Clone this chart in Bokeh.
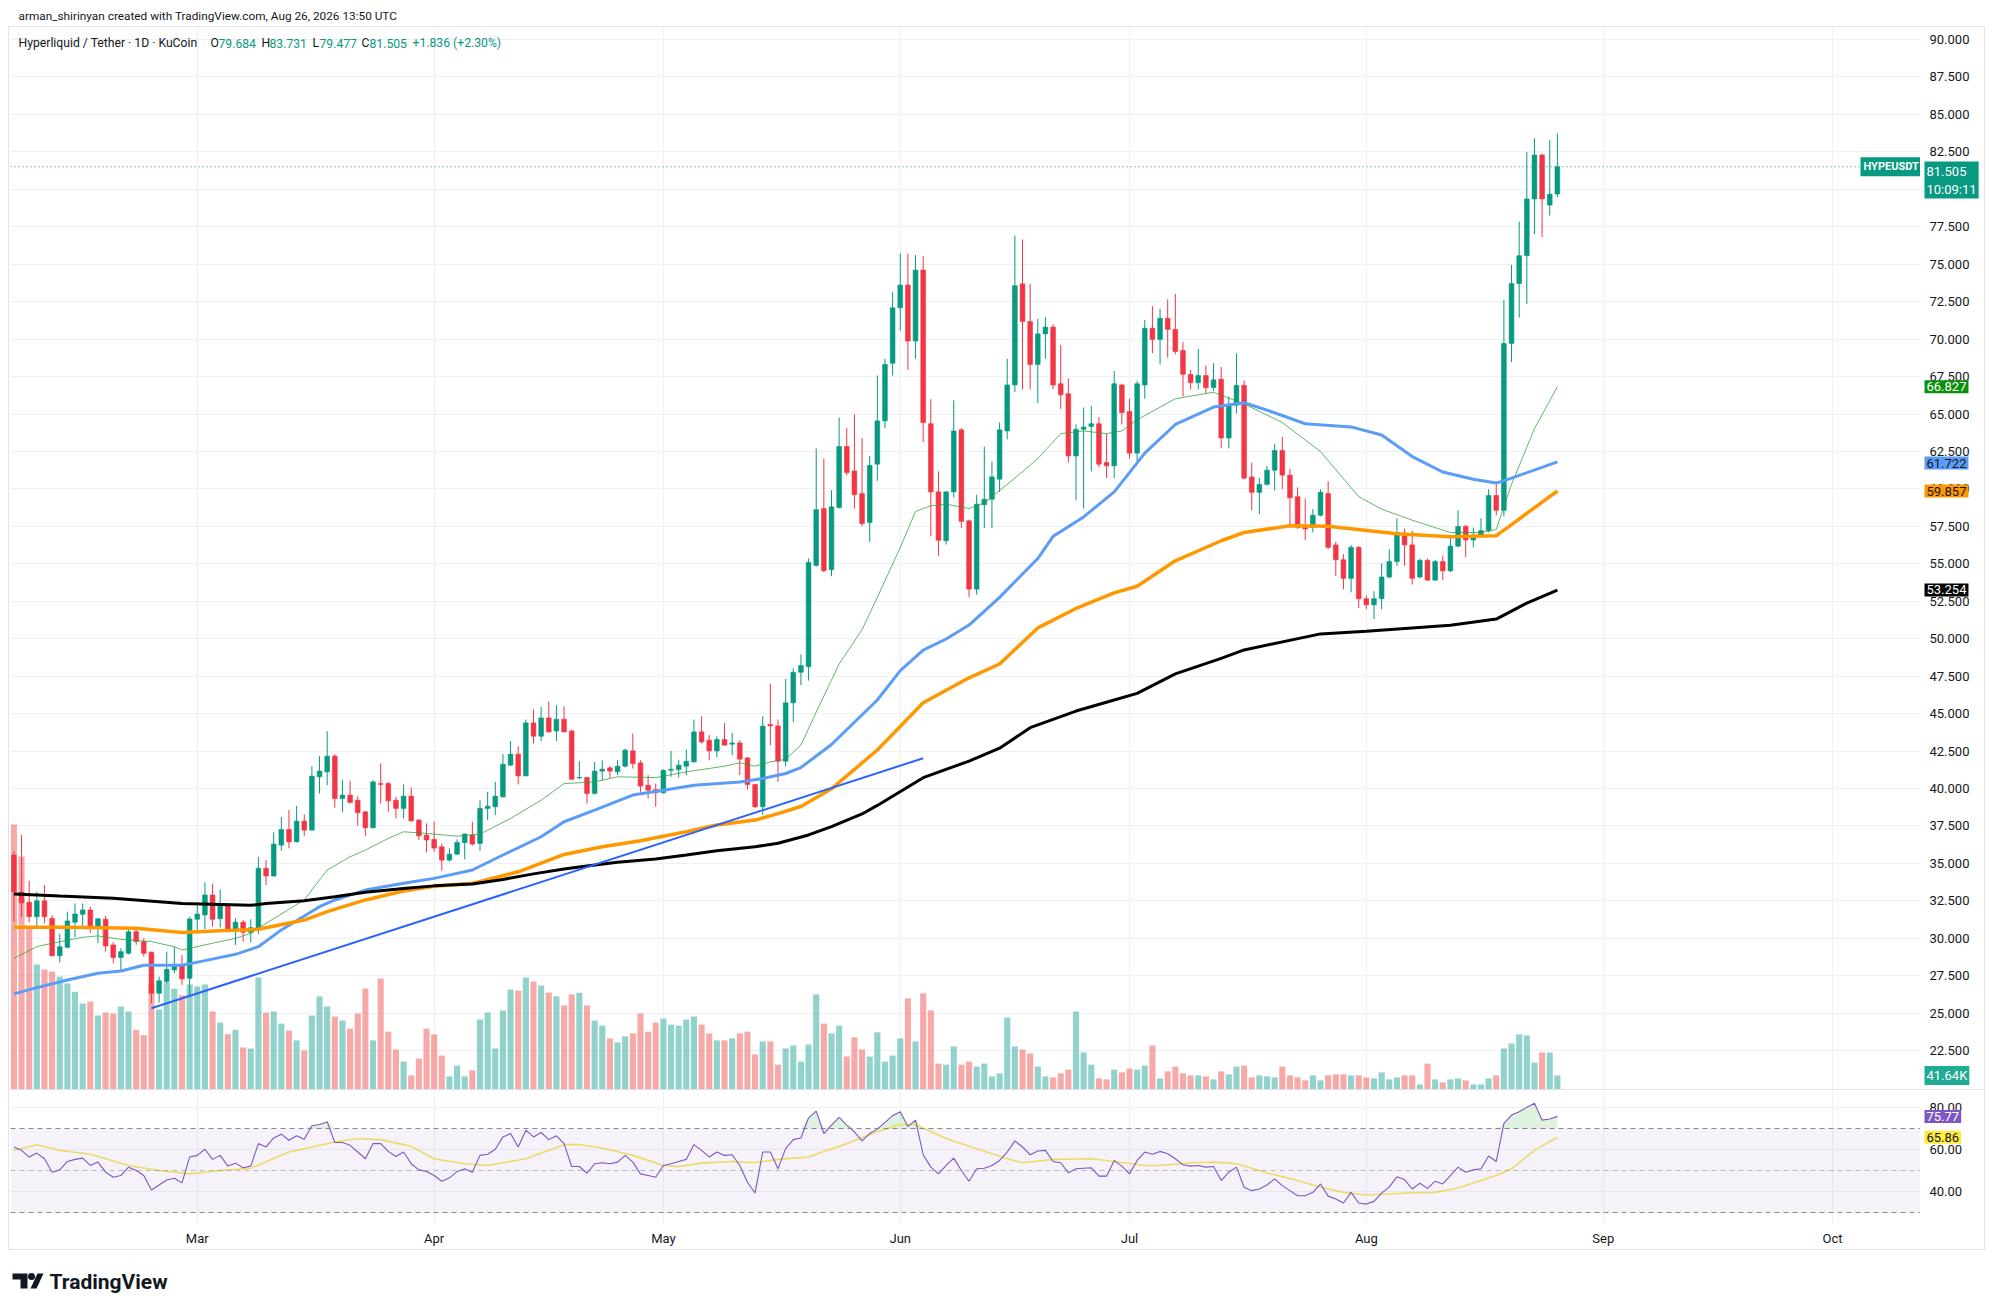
import numpy as np
import pandas as pd
from bokeh.plotting import figure
from bokeh.models import (Range1d, FixedTicker, DatetimeTickFormatter, Label, Span, BoxAnnotation)
from bokeh.layouts import column, row
from bokeh.embed import file_html
from bokeh.resources import INLINE
from bokeh.core.properties import value

# ---------------- data ----------------
start_date = "2026-02-05"

open_px = [
    35.56, 33.09, 32.40, 31.44, 32.50, 31.33, 28.84, 29.40, 31.07, 31.60,
    31.89, 30.67, 31.27, 29.56, 28.71, 29.00, 30.44, 29.78, 29.07, 26.33,
    27.11, 27.89, 28.16, 27.33, 31.27, 31.56, 32.89, 31.31, 32.22, 30.56,
    31.07, 30.40, 30.67, 34.67, 34.16, 36.22, 37.27, 36.44, 37.82, 37.22,
    40.78, 41.11, 42.16, 39.33, 39.56, 39.22, 38.44, 37.38, 40.33, 40.33,
    39.22, 38.67, 39.49, 37.89, 36.89, 36.60, 36.11, 35.22, 35.62, 36.38,
    36.89, 36.33, 38.67, 38.78, 39.44, 41.56, 42.29, 40.84, 44.38, 43.49,
    44.71, 43.84, 44.62, 43.84, 40.70, 40.73, 39.67, 41.16, 41.38, 41.11,
    41.49, 42.51, 41.71, 40.22, 39.93, 39.71, 41.22, 41.27, 41.49, 41.78,
    43.78, 43.22, 42.51, 43.27, 42.96, 43.04, 42.04, 40.27, 38.78, 44.27,
    44.18, 41.82, 45.72, 47.76, 48.13, 54.90, 58.69, 54.61, 58.76, 62.83,
    61.20, 59.69, 57.76, 61.65, 64.54, 68.39, 72.09, 73.61, 69.87, 74.61,
    64.35, 59.80, 56.54, 59.80, 63.94, 57.87, 53.31, 58.94, 59.31, 60.65,
    63.87, 66.94, 73.69, 71.17, 68.31, 70.35, 70.80, 67.02, 66.35, 62.20,
    63.98, 64.17, 64.35, 61.76, 61.54, 66.94, 65.17, 62.39, 66.94, 70.72,
    69.98, 71.39, 70.65, 69.24, 67.65, 67.09, 67.57, 66.76, 67.32, 63.40,
    65.59, 66.91, 60.80, 59.77, 60.30, 61.25, 62.57, 60.92, 59.48, 57.50,
    57.42, 58.24, 59.69, 56.26, 55.27, 54.03, 56.10, 52.67, 52.26, 52.67,
    54.12, 55.15, 57.00, 56.26, 54.12, 55.23, 53.91, 55.15, 54.53, 56.18,
    57.50, 56.59, 56.92, 57.21, 59.56, 58.57, 69.71, 73.71, 75.57, 79.36,
    82.29, 78.95, 79.684]

high_px = [
    35.80, 36.89, 33.84, 33.10, 33.55, 31.55, 30.30, 31.78, 32.33, 32.33,
    32.10, 31.33, 31.49, 29.73, 29.33, 30.56, 30.60, 30.00, 29.11, 27.44,
    29.11, 29.44, 28.89, 31.44, 32.33, 33.73, 33.62, 33.27, 32.33, 31.33,
    31.22, 31.27, 35.44, 35.22, 37.07, 38.11, 38.56, 38.84, 38.27, 41.49,
    42.16, 43.82, 42.29, 40.56, 40.51, 39.49, 38.51, 40.56, 41.67, 40.44,
    39.44, 40.27, 40.07, 37.96, 37.67, 37.78, 36.33, 36.00, 36.60, 37.00,
    37.78, 39.22, 39.78, 40.44, 42.29, 43.16, 42.82, 44.60, 45.27, 45.44,
    45.82, 45.56, 45.49, 43.93, 41.82, 40.78, 41.78, 41.89, 41.49, 41.89,
    42.67, 43.67, 41.89, 40.89, 40.33, 41.27, 42.51, 41.89, 42.60, 44.60,
    44.82, 43.56, 43.49, 44.38, 43.71, 43.22, 42.11, 40.29, 44.82, 47.00,
    44.60, 47.30, 48.02, 48.94, 55.35, 62.69, 62.02, 59.91, 64.76, 64.06,
    64.98, 63.39, 62.20, 67.57, 68.69, 73.13, 75.72, 75.72, 75.61, 75.54,
    65.98, 61.17, 59.87, 65.91, 64.06, 57.94, 59.61, 62.83, 61.83, 64.43,
    68.69, 76.91, 76.65, 73.69, 71.35, 71.46, 70.98, 69.61, 67.39, 64.31,
    65.43, 65.54, 64.80, 63.69, 67.87, 67.02, 66.02, 67.20, 71.28, 72.20,
    72.02, 72.65, 73.02, 69.80, 67.94, 69.35, 68.24, 68.39, 68.14, 66.16,
    69.05, 67.24, 61.75, 60.72, 61.54, 63.00, 63.48, 61.34, 60.10, 59.36,
    58.65, 59.97, 60.51, 56.47, 55.64, 56.26, 56.18, 52.88, 53.17, 55.03,
    55.97, 58.04, 57.33, 57.21, 55.35, 55.35, 55.27, 55.56, 56.92, 58.57,
    57.62, 57.42, 58.04, 59.97, 60.51, 72.60, 74.95, 77.84, 82.50, 83.41,
    82.38, 83.28, 83.731]

low_px = [
    31.10, 31.42, 31.07, 30.60, 31.00, 28.78, 28.38, 29.33, 30.07, 30.82,
    30.38, 29.67, 29.11, 28.33, 27.89, 28.93, 29.56, 28.78, 25.67, 25.71,
    27.00, 27.67, 26.89, 26.22, 30.33, 30.60, 30.78, 30.73, 30.44, 29.56,
    29.78, 29.73, 30.29, 33.56, 34.11, 35.84, 36.00, 36.40, 36.84, 37.22,
    39.67, 40.22, 38.71, 38.44, 39.00, 37.49, 36.84, 37.33, 39.00, 38.44,
    38.00, 38.00, 37.78, 36.56, 35.73, 35.78, 34.51, 35.11, 35.56, 35.27,
    36.18, 35.84, 37.89, 38.22, 39.40, 41.49, 40.27, 40.82, 43.00, 43.16,
    43.73, 43.16, 43.73, 40.56, 40.64, 39.00, 39.60, 40.56, 40.71, 40.89,
    41.40, 41.33, 39.56, 39.33, 38.78, 39.67, 40.78, 40.73, 40.89, 41.73,
    43.00, 41.89, 42.07, 42.89, 42.22, 40.89, 39.93, 38.70, 38.22, 42.89,
    40.44, 41.46, 44.43, 46.90, 47.20, 54.80, 54.43, 54.17, 58.69, 60.91,
    58.69, 57.50, 56.46, 60.54, 64.06, 67.57, 70.54, 67.94, 68.69, 63.13,
    56.83, 55.54, 56.28, 59.43, 57.39, 52.76, 52.94, 57.39, 57.39, 59.80,
    63.31, 66.46, 66.65, 66.65, 65.72, 68.69, 66.65, 65.35, 61.76, 59.24,
    58.69, 61.17, 61.46, 60.72, 60.72, 64.31, 62.02, 61.83, 66.02, 69.06,
    68.31, 68.76, 68.98, 66.17, 66.65, 66.65, 66.39, 66.54, 62.70, 62.70,
    65.05, 60.64, 58.57, 58.32, 60.22, 59.90, 59.97, 57.62, 57.33, 56.59,
    57.09, 58.16, 55.97, 54.20, 53.29, 53.09, 52.05, 51.97, 51.31, 51.97,
    54.03, 54.86, 54.86, 53.62, 54.03, 53.87, 53.87, 53.91, 54.45, 56.10,
    55.44, 56.10, 56.85, 57.09, 58.24, 58.16, 68.47, 71.44, 72.35, 77.01,
    76.81, 78.25, 79.477]

close_px = [
    33.11, 32.36, 31.44, 32.50, 31.44, 28.84, 29.44, 31.16, 31.62, 31.89,
    30.67, 31.30, 29.49, 28.71, 29.11, 30.44, 29.78, 29.00, 26.33, 27.16,
    27.93, 28.16, 27.29, 31.29, 31.62, 32.89, 31.27, 32.18, 30.56, 31.07,
    30.40, 30.71, 34.67, 34.16, 36.29, 37.27, 36.44, 37.82, 37.22, 40.82,
    41.16, 42.16, 39.33, 39.56, 39.07, 38.38, 37.38, 40.44, 40.27, 39.18,
    38.67, 39.49, 37.84, 36.84, 36.56, 36.02, 35.22, 35.62, 36.40, 36.96,
    36.29, 38.67, 38.82, 39.49, 41.62, 42.29, 40.84, 44.38, 43.49, 44.71,
    43.78, 44.62, 43.78, 40.62, 40.73, 39.67, 41.16, 41.29, 41.16, 41.49,
    42.56, 41.67, 40.16, 39.89, 39.71, 41.22, 41.29, 41.56, 41.82, 43.78,
    43.11, 42.51, 43.27, 42.89, 43.04, 41.96, 40.27, 38.78, 44.16, 44.18,
    41.82, 45.72, 47.76, 48.20, 55.09, 58.61, 54.54, 58.80, 62.83, 61.09,
    59.61, 57.69, 61.57, 64.54, 68.31, 72.09, 73.61, 69.87, 74.61, 64.43,
    59.80, 56.57, 59.80, 63.87, 57.83, 53.31, 58.98, 59.31, 60.80, 63.94,
    66.94, 73.57, 71.17, 68.31, 70.35, 70.80, 66.94, 66.28, 62.20, 63.98,
    64.13, 64.35, 61.65, 61.54, 67.02, 65.09, 62.39, 67.02, 70.72, 69.98,
    71.39, 70.65, 69.17, 67.65, 67.09, 67.57, 66.76, 67.28, 63.40, 65.59,
    66.91, 60.72, 59.77, 60.30, 61.25, 62.57, 60.92, 59.40, 57.42, 57.33,
    58.24, 59.77, 56.10, 55.27, 54.03, 56.10, 52.67, 52.26, 52.67, 54.12,
    55.15, 57.09, 56.26, 54.03, 55.23, 53.91, 55.15, 54.53, 56.18, 57.50,
    56.59, 56.92, 57.21, 59.56, 58.57, 69.71, 73.71, 75.57, 79.36, 82.29,
    79.36, 79.669, 81.505]

volume_k = [
    788, 693, 482, 372, 357, 351, 336, 315, 291, 256,
    262, 220, 229, 226, 247, 232, 178, 161, 315, 238,
    318, 300, 280, 312, 306, 312, 232, 199, 164, 178,
    125, 122, 333, 229, 232, 196, 175, 146, 116, 220,
    277, 247, 217, 205, 181, 226, 300, 146, 330, 172,
    119, 83, 42, 92, 181, 164, 101, 39, 71, 39,
    57, 208, 229, 122, 235, 297, 294, 333, 321, 309,
    288, 277, 250, 283, 288, 250, 205, 190, 152, 140,
    158, 167, 226, 172, 199, 211, 193, 190, 208, 217,
    193, 167, 146, 146, 152, 167, 172, 104, 143, 143,
    74, 122, 131, 83, 134, 283, 196, 167, 190, 98,
    155, 119, 98, 170, 83, 101, 152, 271, 143, 286,
    235, 77, 74, 128, 74, 83, 68, 77, 39, 48,
    214, 128, 119, 107, 68, 39, 36, 48, 59, 232,
    110, 74, 33, 30, 59, 51, 62, 59, 71, 131,
    33, 54, 68, 48, 42, 42, 39, 30, 54, 45,
    68, 71, 36, 42, 39, 36, 68, 42, 36, 27,
    42, 27, 42, 45, 45, 42, 42, 36, 33, 51,
    30, 36, 42, 42, 15, 77, 30, 21, 30, 33,
    27, 15, 15, 33, 42, 122, 137, 164, 161, 80,
    110, 110, 41.64]

rsi_vals = [
    61.2, 59.6, 56.4, 58.3, 55.6, 49.2, 50.3, 54.3, 55.3, 55.9,
    52.4, 54.0, 49.2, 46.8, 47.6, 51.6, 50.0, 47.6, 40.7, 43.1,
    45.5, 46.3, 44.1, 56.4, 57.2, 60.1, 55.3, 57.2, 52.1, 53.5,
    51.3, 52.1, 62.8, 61.2, 65.5, 67.3, 64.4, 66.5, 64.9, 71.3,
    71.9, 73.2, 63.3, 63.3, 62.0, 58.8, 55.6, 62.8, 62.8, 59.1,
    56.7, 58.8, 53.2, 50.3, 49.5, 47.6, 44.9, 46.5, 49.5, 50.8,
    49.2, 57.2, 57.7, 60.1, 66.0, 67.6, 61.2, 69.2, 66.0, 68.1,
    64.7, 66.5, 62.8, 51.9, 51.9, 48.7, 53.2, 53.7, 53.2, 54.0,
    57.2, 54.0, 48.4, 47.6, 46.8, 52.4, 53.2, 54.3, 55.3, 62.3,
    59.6, 56.4, 58.8, 57.2, 57.5, 52.4, 44.4, 39.3, 58.8, 58.8,
    50.8, 60.4, 64.7, 65.5, 75.1, 78.3, 67.6, 71.6, 75.3, 71.6,
    68.4, 64.1, 67.6, 69.7, 72.9, 76.1, 78.0, 71.0, 74.0, 57.5,
    51.6, 48.4, 52.4, 55.9, 50.0, 44.9, 50.8, 51.1, 52.4, 54.8,
    58.8, 64.1, 61.2, 57.5, 59.3, 59.6, 54.3, 53.7, 48.9, 50.8,
    51.1, 51.3, 47.3, 47.3, 54.8, 52.1, 48.4, 54.8, 58.8, 57.7,
    59.1, 58.0, 55.6, 52.7, 52.1, 52.4, 51.6, 51.9, 45.2, 49.2,
    51.6, 42.0, 40.4, 41.2, 43.1, 46.0, 42.8, 40.4, 38.0, 38.0,
    39.6, 43.6, 37.8, 36.4, 34.5, 39.6, 34.5, 34.0, 35.3, 39.2,
    42.2, 47.0, 45.7, 41.2, 43.9, 41.5, 44.9, 43.6, 47.6, 51.6,
    49.2, 50.3, 50.8, 56.9, 54.3, 72.4, 76.4, 78.0, 80.1, 82.0,
    74.0, 74.5, 75.77]

# moving averages, read at candle indices
ma20_idx = [0, 3, 5, 9, 11, 14, 18, 21, 22, 25, 29, 31, 33, 38, 41, 44, 46, 49, 51, 54, 58, 61, 65,
            69, 72, 76, 79, 84, 88, 93, 95, 97, 99, 101, 103, 105, 108, 111, 113, 116, 118, 120,
            122, 125, 127, 131, 134, 137, 140, 143, 145, 147, 152, 155, 157, 161, 166, 171, 176,
            179, 183, 188, 192, 194, 196, 199, 202]
ma20_val = [28.67, 29.44, 29.67, 30.07, 30.16, 29.93, 29.78, 29.44, 29.22, 29.56, 30.0, 30.33, 31.0,
            32.56, 34.56, 35.44, 35.89, 36.67, 37.11, 37.0, 36.82, 36.96, 38.0, 39.22, 40.33, 40.44,
            40.78, 40.73, 41.11, 41.49, 41.71, 41.49, 41.78, 41.95, 42.9, 45.1, 48.31, 50.6, 52.76,
            56.09, 58.5, 58.87, 58.98, 58.69, 59.06, 60.72, 62.02, 63.69, 63.87, 63.69, 63.87, 64.61,
            66.02, 66.28, 66.45, 65.67, 64.43, 62.49, 59.48, 58.65, 57.91, 57.09, 57.09, 57.29, 60.3,
            64.02, 66.83]

ma50_idx = [0, 3, 7, 11, 14, 17, 22, 25, 29, 32, 35, 40, 42, 46, 51, 55, 60, 64, 69, 72, 76, 81, 85,
            89, 95, 98, 101, 103, 107, 113, 116, 119, 122, 125, 129, 134, 136, 140, 144, 146, 148,
            152, 157, 161, 164, 169, 175, 179, 183, 187, 191, 194, 196, 202]
ma50_val = [26.29, 26.71, 27.22, 27.67, 27.82, 28.2, 28.2, 28.51, 28.93, 29.44, 30.56, 32.11, 32.56,
            33.22, 33.67, 34.0, 34.56, 35.56, 36.78, 37.78, 38.56, 39.56, 39.89, 40.22, 40.44, 40.67,
            41.0, 41.4, 42.94, 45.91, 47.87, 49.24, 49.98, 50.91, 52.76, 55.35, 56.83, 58.13, 59.8,
            61.09, 62.39, 64.3, 65.46, 65.75, 65.26, 64.35, 64.14, 63.6, 62.16, 61.13, 60.64, 60.39,
            60.72, 61.8]

ma100_idx = [0, 7, 16, 22, 27, 32, 38, 41, 46, 51, 55, 60, 66, 72, 77, 82, 88, 92, 97, 100, 103,
             107, 113, 119, 125, 129, 134, 139, 144, 147, 152, 158, 161, 167, 172, 181, 188, 194,
             196, 202]
ma100_val = [30.73, 30.73, 30.67, 30.38, 30.51, 30.6, 31.22, 31.78, 32.56, 33.16, 33.47, 33.67, 34.44,
             35.6, 36.11, 36.51, 37.11, 37.56, 37.89, 38.32, 38.8, 39.98, 42.57, 45.72, 47.39, 48.31,
             50.72, 52.02, 53.06, 53.5, 55.2, 56.54, 57.09, 57.54, 57.5, 57.0, 56.8, 56.88, 57.62,
             59.86]

ma200_idx = [0, 6, 13, 22, 31, 33, 38, 42, 46, 51, 55, 60, 64, 68, 72, 75, 79, 84, 88, 92, 97, 100,
             104, 107, 111, 113, 119, 125, 129, 133, 139, 144, 147, 152, 158, 161, 171, 177, 188,
             194, 198, 202]
ma200_val = [32.96, 32.82, 32.67, 32.33, 32.2, 32.33, 32.5, 32.78, 33.07, 33.33, 33.5, 33.62, 33.93,
             34.3, 34.62, 34.82, 35.07, 35.29, 35.56, 35.84, 36.11, 36.35, 36.9, 37.46, 38.3, 38.87,
             40.72, 41.83, 42.69, 44.06, 45.17, 45.91, 46.35, 47.65, 48.69, 49.25, 50.32, 50.49, 50.9,
             51.31, 52.38, 53.25]

rsi_ma_idx = [0, 3, 6, 10, 15, 19, 23, 27, 31, 36, 39, 42, 45, 48, 52, 55, 59, 62, 67, 72, 74, 77,
              81, 85, 87, 90, 94, 97, 100, 104, 106, 109, 113, 116, 118, 122, 126, 130, 132, 136,
              141, 144, 148, 150, 154, 157, 160, 164, 168, 171, 174, 177, 180, 183, 186, 189, 192,
              194, 196, 199, 202]
rsi_ma_val = [59.5, 62.3, 59.6, 57.7, 52.4, 50.0, 48.4, 50.0, 51.1, 58.8, 61.2, 63.6, 65.2, 64.7,
              61.5, 55.6, 53.2, 52.4, 55.6, 62.3, 62.3, 60.7, 57.2, 52.4, 51.9, 53.5, 54.3, 53.7,
              55.3, 56.4, 59.1, 62.8, 68.4, 71.9, 71.9, 65.2, 60.4, 55.6, 53.7, 55.3, 55.6, 54.3,
              52.4, 52.4, 53.7, 54.0, 53.2, 48.9, 45.2, 42.0, 39.6, 38.3, 38.8, 39.4, 39.6, 41.7,
              45.2, 47.6, 50.8, 59.6, 65.86]

trend_dates = ["2026-02-23", "2026-06-04"]
trend_prices = [25.33, 42.02]

ma_label_values = [66.827, 61.722, 59.857, 53.254]
rsi_last, rsi_ma_last = 75.77, 65.86
volume_last_label = "41.64K"
countdown = "10:09:11"

month_ticks = ["2026-03-01", "2026-04-01", "2026-05-01", "2026-06-01",
               "2026-07-01", "2026-08-01", "2026-09-01", "2026-10-01"]
price_ticks = [22.5, 25.0, 27.5, 30.0, 32.5, 35.0, 37.5, 40.0, 42.5, 45.0, 47.5, 50.0, 52.5, 55.0,
               57.5, 60.0, 62.5, 65.0, 67.5, 70.0, 72.5, 75.0, 77.5, 80.0, 82.5, 85.0, 87.5, 90.0]
rsi_ticks = [40, 60, 80]

# ---------------- styling / geometry ----------------
FONT = "Roboto"
TXT = "#131722"
UP, DOWN = "#089981", "#f23645"
GRID = "#eef0f4"
DAY = 86400000.0

dates = pd.date_range(start_date, periods=len(close_px), freq="D")
t = (dates.astype("int64") // 10**6).to_numpy().astype(float)
def ms(d):
    return float(pd.Timestamp(d).value // 10**6)
month_ms = [ms(d) for d in month_ticks]

ms_per_px = DAY / 7.641
x_start = t[0] - 0.445 * DAY
x_end = x_start + 1910 * ms_per_px
def px2x(px):
    return x_start + (px - 10.0) * ms_per_px
def py2p(py):
    return 90.0 - (py - 39.0) / 14.98
def py2r(py):
    return 80.0 - (py - 1107.0) / 2.1

o = np.array(open_px); h = np.array(high_px); l = np.array(low_px); c = np.array(close_px)
up = c >= o
cols = [UP if u else DOWN for u in up]
vcols = ["#26a69a" if u else "#ef5350" for u in up]

def style_common(p):
    p.background_fill_color = "white"
    p.border_fill_color = "white"
    p.outline_line_color = None

def bare(width, height, xr, yr, mb_bottom=0):
    f = figure(width=width, height=height, x_range=xr, y_range=yr,
               x_axis_location=None, y_axis_location=None, output_backend="svg",
               toolbar_location=None, min_border_left=0, min_border_right=0,
               min_border_top=0, min_border_bottom=mb_bottom)
    style_common(f)
    f.xgrid.visible = False
    f.ygrid.visible = False
    return f

# ---------------- header ----------------
header = bare(1975, 18, Range1d(0, 1975), Range1d(18, 0))
header.text(x=[10], y=[7.5], text=["arman_shirinyan created with TradingView.com, Aug 26, 2026 13:50 UTC"],
            text_font=value(FONT), text_font_size="11.8px", text_color=TXT, text_baseline="middle")

# ---------------- main price pane ----------------
price_range = Range1d(py2p(1089), py2p(27))
vol_range = Range1d(0, 1062 * 2.974)
main = figure(width=1911, height=1062, x_axis_type="datetime", y_axis_location=None,
              x_range=Range1d(x_start, x_end), y_range=price_range,
              output_backend="svg", toolbar_location=None,
              min_border_left=1, min_border_right=0, min_border_top=0, min_border_bottom=0)
style_common(main)
main.xaxis.visible = False
main.xgrid.ticker = FixedTicker(ticks=month_ms)
main.ygrid.ticker = FixedTicker(ticks=price_ticks)
main.xgrid.grid_line_color = GRID
main.ygrid.grid_line_color = GRID

main.extra_y_ranges = {"vol": vol_range}
main.vbar(x=t, top=volume_k, bottom=0, width=0.8 * DAY, y_range_name="vol",
          fill_color=vcols, fill_alpha=0.5, line_color=None)

main.segment(x0=t, y0=l, x1=t, y1=h, line_color=cols, line_width=1)
main.vbar(x=t, top=np.maximum(o, c), bottom=np.minimum(o, c), width=0.62 * DAY,
          fill_color=cols, line_color=cols, line_width=0.6)

main.line(t[ma20_idx], ma20_val, line_color="#2e9e34", line_alpha=0.75, line_width=1)
main.line(t[ma50_idx], ma50_val, line_color="#5b9cf6", line_width=3)
main.line(t[ma100_idx], ma100_val, line_color="#ff9800", line_width=3.5)
main.line(t[ma200_idx], ma200_val, line_color="#000000", line_width=3)
main.line([ms(d) for d in trend_dates], trend_prices, line_color="#2962ff", line_width=2)

main.add_layout(Span(location=c[-1], dimension="width", line_color=UP, line_dash="1 3", line_width=1))

prev_close = c[-2]
chg = c[-1] - prev_close
legend_parts = [
    (18, "Hyperliquid / Tether · 1D · KuCoin", TXT),
    (210, "O", TXT), (218, f"{o[-1]:.3f}", UP),
    (261, "H", TXT), (269, f"{h[-1]:.3f}", UP),
    (312, "L", TXT), (319, f"{l[-1]:.3f}", UP),
    (361, "C", TXT), (369, f"{c[-1]:.3f}", UP),
    (412, f"{chg:+.3f} ({chg / prev_close * 100:+.2f}%)", UP),
]
for px, txt, colr in legend_parts:
    main.add_layout(Label(x=px2x(px), y=py2p(42.5), text=txt, text_font=FONT, text_font_size="12.2px",
                          text_color=colr, text_baseline="middle", text_align="left"))

main.add_layout(Label(x=px2x(1860), y=c[-1], text="HYPEUSDT", text_font=FONT, text_font_size="11px",
                      text_font_style="bold", text_color="white", text_baseline="middle",
                      background_fill_color=UP, padding=3))

# price scale column (right of the main pane)
main_ax = bare(64, 1062, Range1d(0, 64), price_range)
main_ax.extra_y_ranges = {"vol": vol_range}
main_ax.text(x=[9] * len(price_ticks), y=price_ticks, text=[f"{v:.3f}" for v in price_ticks],
             text_font=value(FONT), text_font_size="13px", text_color=TXT, text_baseline="middle")

def axis_box(fig, yv, txt, bg, fg, y_range_name="default", baseline="middle"):
    fig.add_layout(Label(x=4, y=yv, text=txt, text_font=FONT, text_font_size="13px",
                         text_color=fg, text_baseline=baseline, text_align="left",
                         background_fill_color=bg, padding=2, y_range_name=y_range_name))

axis_box(main_ax, ma_label_values[0], f"{ma_label_values[0]:.3f}", "#0b8f0f", "white")
axis_box(main_ax, ma_label_values[1], f"{ma_label_values[1]:.3f}", "#5b9cf6", TXT)
axis_box(main_ax, ma_label_values[2], f"{ma_label_values[2]:.3f}", "#ff9800", TXT)
axis_box(main_ax, ma_label_values[3], f"{ma_label_values[3]:.3f}", "#000000", "white")
axis_box(main_ax, volume_k[-1], volume_last_label, "#22ab94", "white", y_range_name="vol")
axis_box(main_ax, py2p(161), f"{c[-1]:.3f}\n{countdown}", UP, "white", baseline="top")

# ---------------- RSI pane ----------------
rsi_range = Range1d(py2r(1223), py2r(1090))
rsi = figure(width=1911, height=159, x_axis_type="datetime", y_axis_location=None,
             x_range=main.x_range, y_range=rsi_range,
             output_backend="svg", toolbar_location=None,
             min_border_left=1, min_border_right=0, min_border_top=0, min_border_bottom=26)
style_common(rsi)
rsi.xaxis.ticker = FixedTicker(ticks=month_ms)
rsi.xaxis.formatter = DatetimeTickFormatter(days="%b", months="%b", years="%b")
rsi.xaxis.major_label_text_font = FONT
rsi.xaxis.major_label_text_font_size = "13px"
rsi.xaxis.major_label_text_color = TXT
rsi.xaxis.axis_line_color = None
rsi.xaxis.major_tick_line_color = None
rsi.xaxis.minor_tick_line_color = None
rsi.xaxis.major_tick_out = 0
rsi.xaxis.major_label_standoff = 7
rsi.xgrid.ticker = FixedTicker(ticks=month_ms)
rsi.ygrid.ticker = FixedTicker(ticks=rsi_ticks)
rsi.xgrid.grid_line_color = GRID
rsi.ygrid.grid_line_color = GRID

rsi.add_layout(BoxAnnotation(bottom=30, top=70, fill_color="#7e57c2", fill_alpha=0.08, line_color=None))
for lvl, alpha in ((70, 0.9), (50, 0.5), (30, 0.9)):
    rsi.add_layout(Span(location=lvl, dimension="width", line_color="#787b86", line_alpha=alpha,
                        line_dash="5 4", line_width=1))
rv = np.array(rsi_vals)
rsi.varea(x=t, y1=np.full(len(rv), 70.0), y2=np.maximum(rv, 70.0), fill_color="#4caf50", fill_alpha=0.18)
rsi.line(t[rsi_ma_idx], rsi_ma_val, line_color="#f5d90a", line_alpha=0.65, line_width=1.6)
rsi.line(t, rv, line_color="#7e57c2", line_width=1.1)

rsi_ax = bare(64, 159, Range1d(0, 64), rsi_range, mb_bottom=26)
rsi_ax.text(x=[9] * len(rsi_ticks), y=rsi_ticks, text=[f"{v:.2f}" for v in rsi_ticks],
            text_font=value(FONT), text_font_size="13px", text_color=TXT, text_baseline="middle")
axis_box(rsi_ax, rsi_last, f"{rsi_last:.2f}", "#7e57c2", "white")
axis_box(rsi_ax, rsi_ma_last, f"{rsi_ma_last:.2f}", "#ffeb3b", TXT)

panel = column(row(main, main_ax),
               row(rsi, rsi_ax, styles={"border-top": "1px solid #e0e3eb"}),
               styles={"border": "1px solid #e0e3eb"})

# ---------------- footer (logo) ----------------
footer = bare(1975, 53, Range1d(0, 1975), Range1d(53, 0))
footer.patch(x=[4, 19, 19, 12, 12, 4], y=[23, 23, 38, 38, 29, 29], fill_color=TXT, line_color=None)
footer.scatter(x=[23], y=[26], size=7, marker="circle", fill_color=TXT, line_color=None)
footer.patch(x=[22, 28, 35, 29], y=[38, 38, 23, 23], fill_color=TXT, line_color=None)
footer.text(x=[41], y=[31], text=["TradingView"], text_font=value(FONT), text_font_size="21px",
            text_font_style="bold", text_color=TXT, text_baseline="middle")

layout = column(header, panel, footer, margin=(8, 8, 8, 8))
open("out.html", "w").write(file_html(layout, INLINE))
